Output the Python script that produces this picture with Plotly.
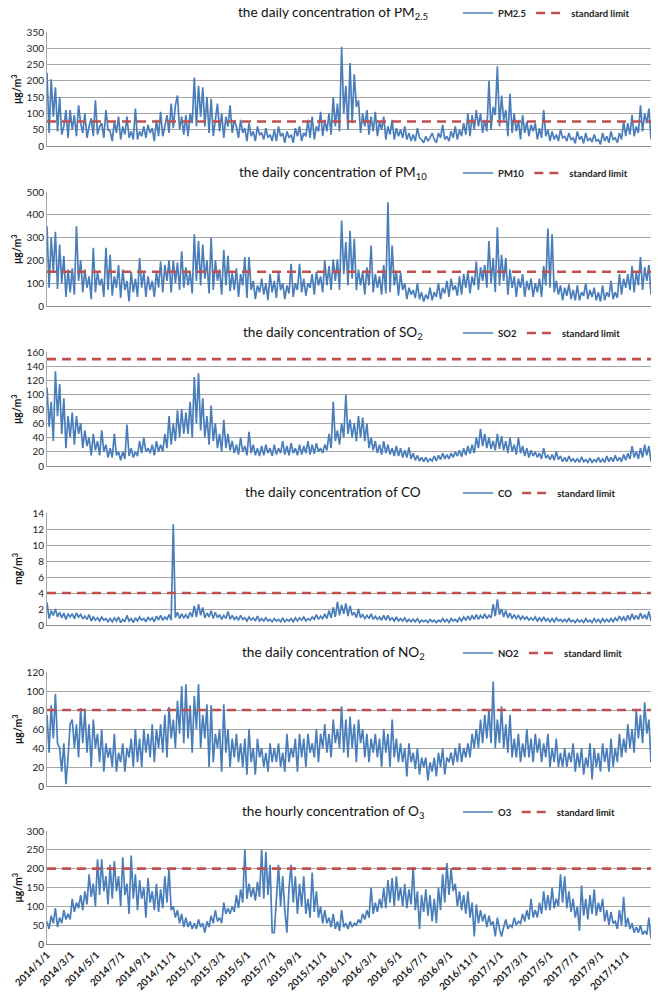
import pandas as pd
import plotly.graph_objects as go

# ---------------- data (6 readings per month, Jan 2014 - Dec 2017) ----------------
pm25 = [
    225,40,205,90,180,45, 150,35,60,110,25,110, 50,95,30,125,70,40, 100,25,60,85,30,140,
    35,60,70,25,110,50, 45,15,75,40,90,20, 60,35,90,25,45,20, 115,20,45,30,60,25,
    65,40,55,15,80,30, 105,30,60,95,40,130, 55,125,155,50,90,35, 95,30,100,70,210,60,
    185,90,180,60,150,40, 145,30,80,130,45,100, 25,90,60,125,40,80, 60,25,80,40,55,15,
    70,30,45,15,60,35, 40,20,55,25,35,15, 50,15,60,30,40,10, 45,25,35,10,55,30,
    60,15,40,30,80,25, 90,20,60,45,105,30, 80,45,100,35,150,60, 130,45,305,100,185,50,
    255,70,220,120,140,40, 100,60,110,35,90,45, 105,30,75,50,90,20, 60,35,80,20,55,30,
    50,25,60,20,40,15, 35,15,55,25,20,10, 30,15,25,40,20,10, 40,25,65,20,30,15,
    45,25,60,20,50,30, 70,35,100,30,95,50, 110,60,100,40,80,45, 200,50,120,95,245,60,
    155,80,110,30,160,40, 100,45,80,20,95,40, 75,30,65,45,70,20, 55,25,110,30,50,15,
    45,20,35,15,50,25, 30,15,40,20,25,8, 45,20,30,8,40,15, 25,12,35,15,20,5,
    40,15,30,10,45,20, 25,10,40,20,75,30, 70,35,95,30,60,40, 125,45,100,70,115,20,
]
pm10 = [
    350,80,300,150,325,75, 270,100,220,40,160,60, 165,50,350,110,200,60, 160,80,130,30,255,60,
    150,90,120,40,255,70, 225,45,130,80,180,35, 160,70,110,20,150,60, 120,40,210,80,150,40,
    130,70,110,40,150,80, 195,60,180,110,200,60, 200,100,190,70,240,80, 170,90,150,55,315,110,
    285,90,270,120,200,55, 300,70,200,110,160,50, 245,90,220,65,145,70, 165,40,140,90,215,35,
    215,70,110,30,90,60, 120,50,100,25,140,60, 110,35,150,70,100,30, 90,55,185,40,100,70,
    185,60,120,45,100,80, 140,50,150,90,130,60, 200,90,175,70,205,110, 205,70,375,140,280,90,
    330,120,295,70,160,90, 150,50,170,90,265,60, 140,80,130,50,180,55, 455,60,265,90,150,45,
    145,70,100,30,80,50, 70,35,100,30,60,20, 50,30,80,25,60,40, 100,30,80,55,110,40,
    120,70,90,45,130,50, 140,80,150,55,130,90, 195,70,170,110,180,80, 285,100,210,60,345,90,
    225,110,210,50,160,80, 130,40,120,80,140,40, 110,70,120,40,100,60, 120,40,175,90,340,80,
    315,60,110,50,90,25, 80,45,95,30,70,25, 90,25,60,45,100,30, 70,40,80,25,60,20,
    90,25,60,40,110,30, 60,35,140,50,120,80, 140,70,175,60,150,90, 215,70,170,110,180,50,
]
so2 = [
    110,55,90,35,133,70, 115,45,95,25,70,40, 75,30,70,45,60,25, 50,28,40,15,45,22,
    35,15,50,20,30,12, 25,12,45,15,20,8, 20,10,58,14,25,12, 20,14,35,18,40,20,
    25,18,30,15,35,20, 30,20,45,25,70,30, 60,35,78,40,80,45, 75,45,90,40,125,60,
    130,50,95,40,70,30, 85,35,60,25,45,20, 65,25,45,22,35,18, 30,16,40,20,28,15,
    48,18,30,15,25,14, 28,15,30,18,25,14, 30,16,25,18,35,16, 28,15,32,18,25,15,
    30,16,28,18,35,16, 30,17,32,20,25,18, 30,22,45,25,90,35, 50,30,60,40,100,45,
    65,40,60,35,70,40, 68,35,60,25,40,22, 35,18,30,16,35,18, 30,16,25,14,28,14,
    25,12,22,12,26,10, 18,8,15,7,12,6, 12,6,10,7,14,7, 15,9,18,10,16,10,
    18,12,20,14,22,13, 25,15,28,17,30,18, 40,25,52,28,45,25, 40,24,35,22,45,24,
    42,22,35,18,40,20, 30,16,40,18,28,14, 25,12,22,14,20,12, 18,10,25,11,15,9,
    16,8,20,9,14,6, 12,6,14,7,10,6, 10,5,13,6,9,5, 11,5,9,6,12,5,
    10,5,14,6,12,6, 15,7,12,6,16,8, 18,10,28,12,20,10, 25,12,30,15,28,6,
]
co = [
    2.8,0.8,1.8,1.2,2.0,1.0, 1.6,0.9,1.5,0.7,1.4,1.0, 1.4,0.8,1.5,1.0,1.3,0.8, 1.1,0.7,1.3,0.5,1.0,0.6,
    0.9,0.5,1.0,0.6,0.8,0.4, 0.8,0.4,0.9,0.5,1.0,0.3, 0.7,0.4,1.2,0.5,0.8,0.3, 0.9,0.5,1.0,0.6,0.8,0.4,
    1.0,0.6,0.9,0.4,1.1,0.6, 1.2,0.6,1.0,0.7,1.3,0.6, 12.6,0.9,1.6,0.8,1.4,0.9, 1.3,0.8,1.6,1.0,2.4,1.0,
    2.6,1.2,2.2,0.9,1.5,1.0, 1.8,0.8,1.6,0.9,1.3,0.7, 1.2,0.8,1.7,0.7,1.2,0.7, 1.0,0.6,1.2,0.7,0.9,0.5,
    1.0,0.6,0.9,0.5,1.1,0.5, 0.8,0.5,0.9,0.5,0.7,0.4, 0.8,0.5,0.7,0.4,0.9,0.4, 0.7,0.5,0.8,0.4,0.9,0.5,
    0.9,0.6,1.0,0.5,0.8,0.6, 1.0,0.7,1.3,0.7,1.1,0.8, 1.4,0.8,1.8,0.9,2.2,1.0, 2.9,1.2,2.5,1.4,2.7,1.1,
    2.4,1.2,1.6,0.9,2.0,0.9, 1.3,0.8,1.2,0.8,1.4,0.7, 1.1,0.7,1.0,0.6,1.2,0.6, 1.2,0.6,0.9,0.5,1.0,0.5,
    0.8,0.5,0.9,0.4,0.7,0.4, 0.7,0.4,0.8,0.3,0.6,0.4, 0.6,0.3,0.7,0.4,0.6,0.3, 0.6,0.4,0.8,0.4,0.7,0.3,
    0.8,0.5,0.7,0.4,0.9,0.5, 1.0,0.6,1.1,0.6,1.2,0.7, 1.3,0.7,1.2,0.8,1.4,0.8, 1.2,0.9,2.6,1.1,3.2,1.3,
    2.0,1.0,1.8,0.9,1.5,0.8, 1.3,0.8,1.2,0.7,1.1,0.7, 1.0,0.6,0.9,0.6,1.0,0.5, 0.9,0.5,1.0,0.5,0.8,0.4,
    0.8,0.4,0.9,0.5,0.7,0.4, 0.7,0.4,0.8,0.4,0.6,0.3, 0.7,0.4,0.6,0.3,0.8,0.4, 0.6,0.3,0.8,0.4,0.7,0.3,
    0.8,0.4,0.7,0.4,0.8,0.4, 0.9,0.5,1.1,0.6,1.0,0.5, 1.2,0.6,1.4,0.7,1.2,0.7, 1.5,0.8,1.3,0.7,1.7,0.5,
]
no2 = [
    75,35,85,50,97,45, 40,15,45,2,30,65, 70,40,65,30,82,45, 80,35,65,20,70,40,
    55,25,60,15,45,30, 40,20,55,15,35,25, 45,15,40,30,50,20, 60,25,50,20,60,35,
    55,30,65,25,60,40, 65,35,75,30,83,50, 70,40,90,55,105,45, 107,50,85,35,95,60,
    107,40,75,50,86,20, 85,25,55,40,60,15, 86,35,60,20,50,30, 55,25,45,20,50,12,
    60,25,40,12,50,30, 40,20,35,15,45,25, 40,25,45,20,35,15, 55,25,40,30,50,15,
    55,30,50,20,55,35, 45,30,60,25,55,40, 65,35,55,30,70,45, 60,40,84,35,70,30,
    73,40,65,25,70,45, 60,30,55,25,50,35, 55,30,50,20,60,35, 55,20,70,30,50,25,
    45,25,40,10,45,25, 35,18,40,12,30,20, 30,6,25,15,30,10, 35,20,40,12,30,25,
    35,22,40,25,45,25, 40,30,45,30,55,40, 60,40,70,45,75,50, 80,45,110,40,70,45,
    84,40,65,35,75,30, 50,30,55,25,45,30, 60,30,50,25,55,35, 50,25,45,30,55,20,
    40,25,50,20,35,20, 40,20,35,25,45,15, 35,20,40,12,30,20, 45,7,40,20,35,15,
    45,25,40,15,50,20, 40,25,55,30,50,35, 65,40,60,35,80,50, 75,45,88,55,70,25,
]
o3 = [
    60,40,75,55,95,45, 70,55,90,65,80,65, 120,85,110,95,130,90, 140,105,185,125,160,100,
    225,130,225,140,180,105, 210,120,220,140,180,100, 230,130,160,80,235,120, 185,90,170,120,150,70,
    175,110,140,90,160,85, 145,95,180,110,200,90, 100,70,90,55,80,45, 70,45,60,40,55,40,
    65,45,55,30,60,45, 75,55,90,60,70,55, 110,80,95,80,100,85, 130,95,145,110,250,120,
    160,125,150,115,165,125, 250,120,245,130,210,30, 30,110,210,100,180,90, 30,150,210,110,180,80,
    160,100,180,80,120,70, 190,85,140,70,100,55, 90,55,70,45,80,40, 60,35,90,45,55,40,
    60,45,55,50,65,55, 80,65,90,70,150,80, 110,85,120,95,150,95, 170,110,175,100,180,115,
    150,100,160,95,145,105, 205,90,140,40,130,85, 145,75,130,60,120,55, 150,90,185,110,215,130,
    200,140,160,100,140,90, 130,80,140,70,110,20, 105,55,90,60,80,45, 75,50,60,20,70,40,
    20,45,65,40,50,45, 70,50,60,55,80,60, 90,65,120,70,90,70, 110,80,140,90,130,90,
    150,95,120,100,185,110, 180,95,140,85,120,70, 100,35,155,75,120,65, 130,80,145,75,110,85,
    120,60,90,50,85,55, 60,40,90,50,125,45, 70,40,55,30,45,30, 50,25,35,25,70,15,
]

series_names = ["PM2.5", "PM10", "SO2", "CO", "NO2", "O3"]
series_values = [pm25, pm10, so2, co, no2, o3]
standard_limits = [75, 150, 150, 4, 80, 200]
titles = [
    "the daily concentration of PM<sub>2.5</sub>",
    "the daily concentration of PM<sub>10</sub>",
    "the daily concentration of SO<sub>2</sub>",
    "the daily concentration of CO",
    "the daily concentration of NO<sub>2</sub>",
    "the hourly concentration of O<sub>3</sub>",
]
units = ["μg/m<sup>3</sup>"] * 3 + ["mg/m<sup>3</sup>"] + ["μg/m<sup>3</sup>"] * 2
y_max = [350, 500, 160, 14, 120, 300]
y_step = [50, 100, 20, 2, 20, 50]
tick_labels = [
    "2014/1/1", "2014/3/1", "2014/5/1", "2014/7/1", "2014/9/1", "2014/11/1",
    "2015/1/1", "2015/3/1", "2015/5/1", "2015/7/1", "2015/9/1", "2015/11/1",
    "2016/1/1", "2016/3/1", "2016/5/1", "2016/7/1", "2016/9/1", "2016/11/1",
    "2017/1/1", "2017/3/1", "2017/5/1", "2017/7/1", "2017/9/1", "2017/11/1",
]
start_date, end_date = "2014-01-01", "2017-12-31"

# ---------------- layout geometry (page pixels) ----------------
PAGE_W, PAGE_H = 662, 992
OFF = 8                      # default body margin of the html page
W, H = PAGE_W - OFF, PAGE_H - OFF
panel_px = [(32, 146), (192, 306), (352, 466), (513, 625), (672, 786), (831, 944)]
title_top_px = [3, 163, 323, 483, 643, 802]
legend_px = [13, 173, 333, 493, 653, 812]
x_left, x_right = 47, 651


def fx(px):
    return (px - OFF) / W


def fy(py):
    return 1 - (py - OFF) / H


FONT = "Lato, 'Liberation Sans', sans-serif"
BLUE = "#4a7ebb"
RED = "#c0504d"
GRID = "#a6a6a6"

fig = go.Figure()
tick_vals = pd.to_datetime(tick_labels, format="%Y/%m/%d")

annotations = []
layout_axes = {}
for i, (name, vals, lim) in enumerate(zip(series_names, series_values, standard_limits)):
    k = i + 1
    sfx = "" if k == 1 else str(k)
    leg = "legend" if k == 1 else f"legend{k}"
    dates = pd.date_range(start_date, end_date, periods=len(vals))
    fig.add_trace(go.Scatter(
        x=dates, y=vals, mode="lines", name=name,
        line=dict(color=BLUE, width=1.7),
        xaxis=f"x{sfx}", yaxis=f"y{sfx}", legend=leg,
    ))
    fig.add_trace(go.Scatter(
        x=[pd.Timestamp(start_date), pd.Timestamp(end_date)], y=[lim, lim],
        mode="lines", name="standard limit",
        line=dict(color=RED, width=2.6, dash="9px,6px"),
        xaxis=f"x{sfx}", yaxis=f"y{sfx}", legend=leg,
    ))
    top, bot = panel_px[i]
    layout_axes[f"yaxis{sfx}"] = dict(
        domain=[fy(bot), fy(top)], range=[0, y_max[i]], dtick=y_step[i],
        showgrid=True, gridcolor=GRID, gridwidth=1, zeroline=False,
        showline=True, linecolor=GRID, linewidth=1, ticks="", automargin=False,
        tickfont=dict(family=FONT, size=10, color="#222"), anchor=f"x{sfx}",
        fixedrange=True,
    )
    layout_axes[f"xaxis{sfx}"] = dict(
        domain=[fx(x_left), fx(x_right)], range=[start_date, end_date],
        anchor=f"y{sfx}", showgrid=False, zeroline=False, automargin=False,
        showline=True, linecolor="#8c8c8c", linewidth=1, ticks="",
        tickvals=tick_vals, ticktext=tick_labels, tickangle=-45,
        showticklabels=(k == 6),
        tickfont=dict(family=FONT, size=10, color="#222", weight="bold"),
        **({} if k == 1 else {"matches": "x"}),
    )
    layout_axes[leg] = dict(
        x=fx(458), y=fy(legend_px[i]), xanchor="left", yanchor="middle",
        orientation="h", bgcolor="rgba(0,0,0,0)", itemwidth=30,
        font=dict(family=FONT, size=9.5, color="#222", weight="bold"),
        traceorder="normal",
    )
    annotations.append(dict(
        text=titles[i], x=fx(333), y=fy(title_top_px[i]), xref="paper", yref="paper",
        xanchor="center", yanchor="top", showarrow=False, borderpad=0,
        font=dict(family=FONT, size=13.6, color="#111"),
    ))
    annotations.append(dict(
        text=units[i], x=fx(17), y=fy((top + bot) / 2), xref="paper", yref="paper",
        xanchor="center", yanchor="middle", showarrow=False, textangle=-90,
        font=dict(family=FONT, size=10.5, color="#111", weight="bold"),
    ))

fig.update_layout(
    width=W, height=H, autosize=False,
    margin=dict(l=0, r=0, t=0, b=0, pad=0, autoexpand=False),
    paper_bgcolor="white", plot_bgcolor="white",
    showlegend=True, annotations=annotations,
    **layout_axes,
)

fig.write_html("out.html")
